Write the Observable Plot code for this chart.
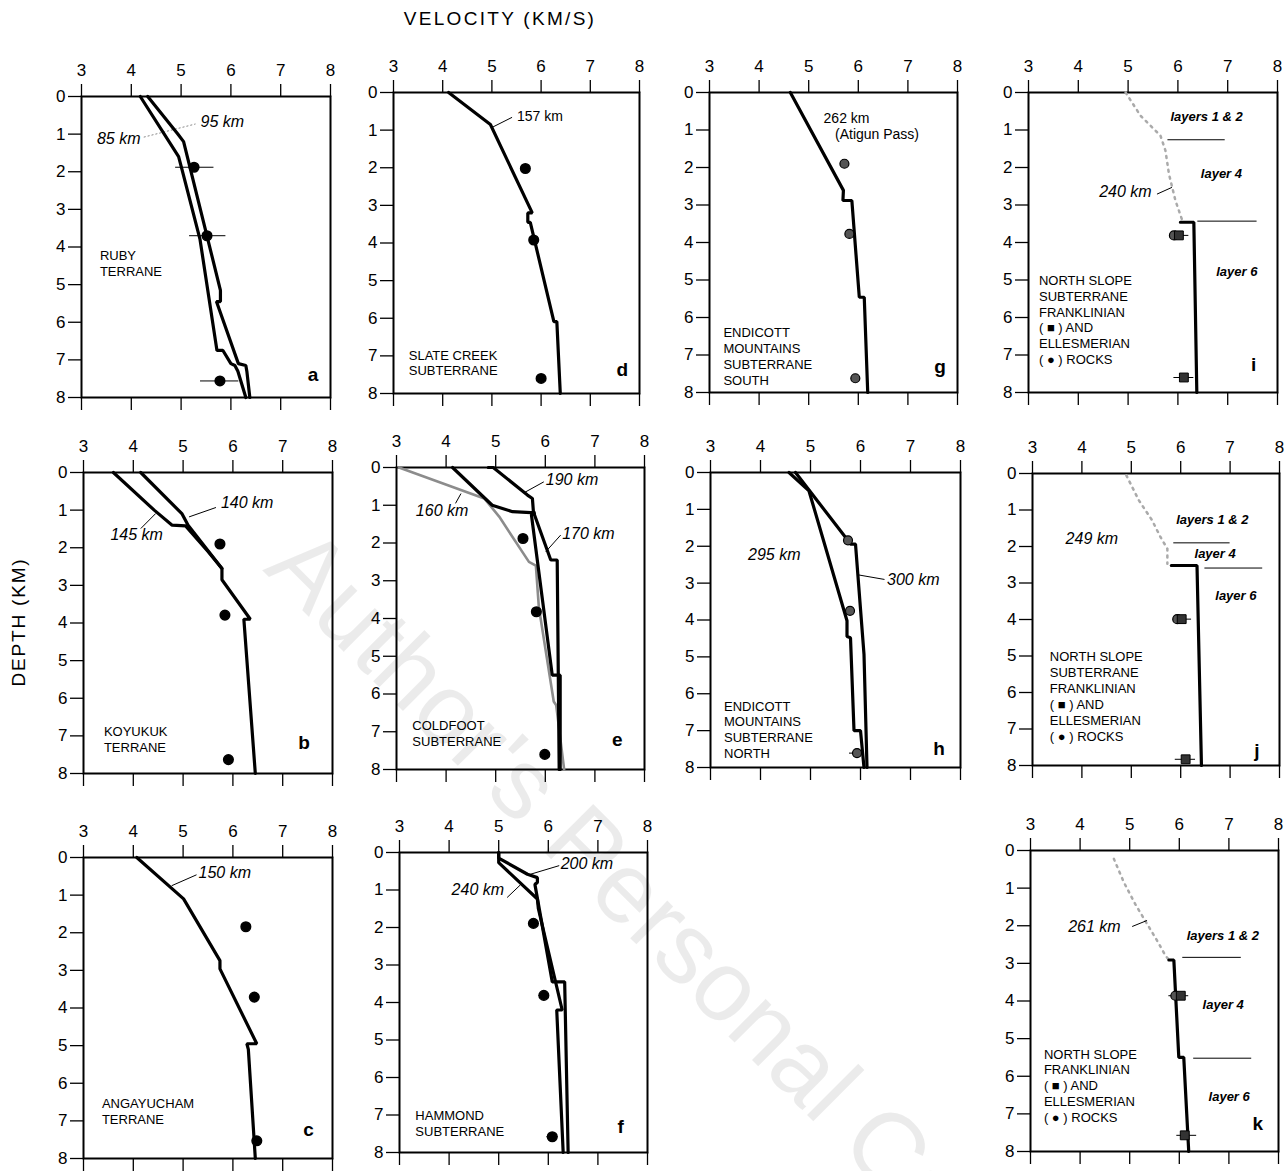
<!DOCTYPE html>
<html>
<head>
<meta charset="utf-8">
<script src="https://cdn.jsdelivr.net/npm/d3@7"></script>
<script src="https://cdn.jsdelivr.net/npm/@observablehq/plot@0.6"></script>
<style>
  html, body { margin:0; padding:0; background:#fff; }
  #root { position:relative; width:1286px; height:1171px; overflow:hidden; background:#fff;
          font-family:'Liberation Sans', Arial, Helvetica, sans-serif; }
  .panel { position:absolute; }
  #title { position:absolute; top:8px; left:380px; width:240px; text-align:center; font-size:19px; letter-spacing:2.3px; white-space:nowrap; }
  #ylab { position:absolute; left:19px; top:622px; transform:translate(-50%,-50%) rotate(-90deg); font-size:19px; letter-spacing:1.8px; white-space:nowrap; }
  #wm { position:absolute; left:0; top:0; pointer-events:none; }
</style>
</head>
<body>
<div id="root">
  <div id="title">VELOCITY (KM/S)</div>
  <div id="ylab">DEPTH (KM)</div>
</div>
<script>
// ---------------- DATA ----------------
const velocityTicks = [3, 4, 5, 6, 7, 8];
const depthTicks = [0, 1, 2, 3, 4, 5, 6, 7, 8];

// Panel a — Ruby terrane
const a_85km = [[4.18,0],[4.95,1.6],[5.02,1.95],[5.38,3.8],[5.72,6.75],[5.84,6.75],[6.0,7.1],[6.08,7.15],[6.14,7.3],[6.3,8]];
const a_95km = [[4.33,0],[4.93,0.99],[5.05,1.2],[5.79,5.15],[5.79,5.45],[5.71,5.45],[6.15,7.1],[6.3,7.15],[6.32,7.3],[6.38,8]];
const a_samples = [[5.26,1.88],[5.52,3.7],[5.78,7.56]];
const a_ranges = [[4.89,5.66,1.88],[5.17,5.9,3.7],[5.39,6.16,7.56]];

// Panel b — Koyukuk terrane
const b_140km = [[4.15,0],[4.98,1.1],[5.1,1.4],[5.78,2.55],[5.78,2.85],[6.35,3.9],[6.22,3.9],[6.45,8]];
const b_145km = [[3.6,0],[4.42,1.0],[4.78,1.4],[5.05,1.42],[5.5,2.1],[5.78,2.55]];
const b_samples = [[5.74,1.9],[5.84,3.79],[5.91,7.63]];

// Panel c — Angayucham terrane
const c_150km = [[4.07,0],[5.01,1.1],[5.74,2.74],[5.74,2.96],[6.48,4.95],[6.28,4.95],[6.31,5.1],[6.45,8]];
const c_samples = [[6.26,1.84],[6.43,3.71],[6.48,7.53]];

// Panel d — Slate Creek subterrane
const d_157km = [[4.12,0],[4.97,0.85],[5.82,3.2],[5.73,3.2],[5.73,3.45],[5.78,3.45],[6.26,6.09],[6.32,6.09],[6.39,8]];
const d_samples = [[5.68,2.02],[5.85,3.92],[6.0,7.6]];

// Panel e — Coldfoot subterrane
const e_190km = [[4.85,0],[4.95,0],[5.64,0.73],[5.74,0.82],[5.76,1.17],[6.11,2.45],[6.24,2.45],[6.28,8]];
const e_170km = [[4.13,0],[4.93,1.0],[5.34,1.17],[5.8,1.2],[5.72,1.25],[6.14,5.5],[6.3,5.5],[6.3,8]];
const e_160km = [[3.05,0],[4.77,0.82],[5.07,1.3],[5.67,2.5],[5.81,2.6],[5.87,3.7],[6.17,6.2],[6.22,6.3],[6.38,8]];
const e_samples = [[5.55,1.88],[5.82,3.82],[5.99,7.6]];

// Panel f — Hammond subterrane
const f_200km = [[5.0,0],[5.0,0.15],[5.58,0.58],[5.78,0.67],[5.78,0.8],[5.73,0.85],[6.08,3.45],[6.33,3.45],[6.4,8]];
const f_240km = [[5.0,0],[5.0,0.27],[5.78,1.24],[5.8,1.5],[6.28,4.2],[6.17,4.2],[6.3,8]];
const f_samples = [[5.7,1.89],[5.91,3.81],[6.08,7.58]];
const f_ranges = [[5.6,5.82,1.89],[5.81,6.0,3.81],[5.97,6.2,7.58]];

// Panel g — Endicott Mountains subterrane south
const g_262km = [[4.63,0],[5.7,2.61],[5.69,2.88],[5.87,2.88],[6.02,5.46],[6.12,5.46],[6.19,8]];
const g_samples = [[5.72,1.9],[5.82,3.77],[5.94,7.62]];

// Panel h — Endicott Mountains subterrane north
const h_300km = [[4.7,0],[5.73,1.81],[5.8,1.94],[5.9,1.94],[6.07,4.93],[6.13,8]];
const h_295km = [[4.57,0],[4.97,0.5],[5.73,4.02],[5.73,4.45],[5.8,4.48],[5.87,7.0],[6.0,7.0],[6.07,8]];
const h_samples = [[5.75,1.84],[5.79,3.75],[5.93,7.61]];
const h_ranges = [[5.78,5.93,7.61]];

// Panel i — North Slope subterrane (240 km)
const i_upper = [[4.95,0],[5.25,0.62],[5.65,1.15],[5.75,1.55],[5.82,2.17],[5.95,2.88],[6.08,3.38]];
const i_240km = [[6.05,3.46],[6.32,3.46],[6.38,8]];
const i_franklinian = [[6.02,3.81],[6.12,7.6]];
const i_ellesmerian = [[5.92,3.81]];
const i_ranges = [[5.85,6.22,3.81],[5.92,6.32,7.6]];
const i_boundaries = [[5.8,6.95,1.26],[6.4,7.59,3.43]];

// Panel j — North Slope subterrane (249 km)
const j_upper = [[4.9,0.05],[5.15,0.73],[5.42,1.28],[5.59,1.74],[5.73,2.06],[5.73,2.47]];
const j_249km = [[5.81,2.52],[6.33,2.52],[6.42,8]];
const j_franklinian = [[6.02,3.99],[6.1,7.83]];
const j_ellesmerian = [[5.93,3.99]];
const j_ranges = [[5.86,6.22,3.99],[5.89,6.3,7.83]];
const j_boundaries = [[5.86,7.0,1.9],[6.49,7.66,2.59]];

// Panel k — North Slope (261 km)
const k_upper = [[4.68,0.22],[4.88,0.84],[5.11,1.42],[5.35,1.95],[5.55,2.39],[5.72,2.79],[5.79,2.91]];
const k_261km = [[5.79,2.91],[5.89,2.91],[5.99,5.5],[6.09,5.5],[6.15,7.0],[6.19,8]];
const k_franklinian = [[6.03,3.86],[6.11,7.57]];
const k_ellesmerian = [[5.92,3.86]];
const k_ranges = [[5.79,6.19,3.86],[5.95,6.35,7.57]];
const k_boundaries = [[6.07,7.25,2.84],[6.29,7.46,5.52]];

// Annotation texts: [text, velocity, depth]
const a_names = [["RUBY\nTERRANE",3.37,4.05]];
const b_names = [["KOYUKUK\nTERRANE",3.41,6.71]];
const c_names = [["ANGAYUCHAM\nTERRANE",3.37,6.37]];
const d_names = [["SLATE CREEK\nSUBTERRANE",3.31,6.8]];
const e_names = [["COLDFOOT\nSUBTERRANE",3.32,6.65]];
const f_names = [["HAMMOND\nSUBTERRANE",3.32,6.83]];
const g_names = [["ENDICOTT\nMOUNTAINS\nSUBTERRANE\nSOUTH",3.28,6.22]];
const h_names = [["ENDICOTT\nMOUNTAINS\nSUBTERRANE\nNORTH",3.27,6.15]];
const i_names = [["NORTH SLOPE\nSUBTERRANE\nFRANKLINIAN\n( ■ ) AND\nELLESMERIAN\n( ● ) ROCKS",3.21,4.83]];
const j_names = [["NORTH SLOPE\nSUBTERRANE\nFRANKLINIAN\n( ■ ) AND\nELLESMERIAN\n( ● ) ROCKS",3.35,4.84]];
const k_names = [["NORTH SLOPE\nFRANKLINIAN\n( ■ ) AND\nELLESMERIAN\n( ● ) ROCKS",3.27,5.23]];

const panelLetters = {a:[7.65,7.4], b:[7.43,7.2], c:[7.52,7.25], d:[7.65,7.38], e:[7.45,7.22], f:[7.46,7.32],
                      g:[7.65,7.33], h:[7.57,7.5], i:[7.52,7.27], j:[7.54,7.59], k:[7.58,7.27]};

const a_kmLabels = [["95 km",5.39,0.68],["85 km",3.31,1.13]];
const b_kmLabels = [["140 km",5.76,0.82],["145 km",3.54,1.67]];
const c_kmLabels = [["150 km",5.31,0.4]];
const e_kmLabels = [["190 km",6.01,0.32],["160 km",3.39,1.15],["170 km",6.34,1.75]];
const f_kmLabels = [["200 km",6.25,0.31],["240 km",4.05,1.0]];
const h_kmLabels = [["300 km",6.53,2.92],["295 km",3.75,2.24]];
const i_kmLabels = [["240 km",4.42,2.66]];
const j_kmLabels = [["249 km",3.67,1.78]];
const k_kmLabels = [["261 km",3.76,2.02]];
const d_plainLabels = [["157 km",5.51,0.63]];
const g_plainLabels = [["262 km",5.3,0.69],["(Atigun Pass)",5.53,1.12]];

const i_layerLabels = [["layers 1 & 2",5.85,0.65],["layer 4",6.46,2.17],["layer 6",6.77,4.79]];
const j_layerLabels = [["layers 1 & 2",5.91,1.28],["layer 4",6.28,2.21],["layer 6",6.7,3.36]];
const k_layerLabels = [["layers 1 & 2",6.15,2.26],["layer 4",6.47,4.1],["layer 6",6.59,6.56]];

// Leader lines: [v1, d1, v2, d2]
const a_leaders = [[4.25,1.08,5.29,0.73]];
const b_leaders = [[5.12,1.18,5.66,0.93],[4.15,1.49,4.45,1.09]];
const c_leaders = [[4.77,0.75,5.27,0.46]];
const d_leaders = [[5.0,0.93,5.41,0.66]];
const e_leaders = [[5.57,0.67,5.97,0.38],[4.19,0.95,4.3,0.69],[6.01,2.23,6.31,1.79]];
const f_leaders = [[5.17,1.2,5.44,0.86],[5.64,0.58,6.22,0.35]];
const h_leaders = [[5.97,2.78,6.48,2.9]];
const i_leaders = [[5.58,2.71,5.88,2.53]];
const k_leaders = [[5.05,2.02,5.35,1.86]];

// ---------------- PANEL SPECS ----------------
const specs = [
 {id:"a", L:81,  T:96,  W:249, H:301, black:[a_85km,a_95km], dots:a_samples, ranges:a_ranges, names:a_names, km:a_kmLabels, leaders:a_leaders, leaderGray:true},
 {id:"d", L:393, T:92,  W:246, H:301, black:[d_157km], dots:d_samples, names:d_names, plain:d_plainLabels, leaders:d_leaders},
 {id:"g", L:709, T:92,  W:248, H:300, black:[g_262km], grayDots:g_samples, names:g_names, plain:g_plainLabels},
 {id:"i", L:1028,T:92,  W:249, H:300, dotted:[i_upper], black:[i_240km], squares:i_franklinian, grayDots:i_ellesmerian, ranges:i_ranges, bounds:i_boundaries, names:i_names, km:i_kmLabels, layers:i_layerLabels, leaders:i_leaders},
 {id:"b", L:83,  T:472, W:249, H:301, black:[b_140km,b_145km], dots:b_samples, names:b_names, km:b_kmLabels, leaders:b_leaders},
 {id:"e", L:396, T:467, W:248, H:302, gray:[e_160km], black:[e_190km,e_170km], dots:e_samples, names:e_names, km:e_kmLabels, leaders:e_leaders},
 {id:"h", L:710, T:472, W:250, H:295, black:[h_300km,h_295km], grayDots:h_samples, ranges:h_ranges, names:h_names, km:h_kmLabels, leaders:h_leaders},
 {id:"j", L:1032,T:473, W:247, H:292, dotted:[j_upper], black:[j_249km], squares:j_franklinian, grayDots:j_ellesmerian, ranges:j_ranges, bounds:j_boundaries, names:j_names, km:j_kmLabels, layers:j_layerLabels},
 {id:"c", L:83,  T:857, W:249, H:301, black:[c_150km], dots:c_samples, names:c_names, km:c_kmLabels, leaders:c_leaders},
 {id:"f", L:399, T:852, W:248, H:300, black:[f_200km,f_240km], dots:f_samples, ranges:f_ranges, names:f_names, km:f_kmLabels, leaders:f_leaders},
 {id:"k", L:1030,T:850, W:248, H:301, dotted:[k_upper], black:[k_261km], squares:k_franklinian, grayDots:k_ellesmerian, ranges:k_ranges, bounds:k_boundaries, names:k_names, km:k_kmLabels, layers:k_layerLabels, leaders:k_leaders}
];

const FONT = "'Liberation Sans', Arial, Helvetica, sans-serif";
const X = d => d[0], Y = d => d[1];
const intFmt = d => String(d);

function makePanel(s) {
  const ml = 46, mt = 46, mr = 6, mb = 18;
  const marks = [
    Plot.axisX({anchor:"top", ticks:velocityTicks, tickFormat:intFmt, tickSize:13, tickPadding:8, fontSize:17, label:null, strokeWidth:1.3}),
    Plot.axisX({anchor:"bottom", ticks:velocityTicks, tickSize:13, tickFormat:() => "", label:null, strokeWidth:1.3}),
    Plot.axisY({anchor:"left", ticks:depthTicks, tickFormat:intFmt, tickSize:13, tickPadding:3, fontSize:17, label:null, strokeWidth:1.3}),
    Plot.frame({stroke:"black", strokeWidth:2})
  ];
  (s.dotted || []).forEach(l => marks.push(Plot.line(l, {x:X, y:Y, stroke:"#aaa", strokeWidth:2.5, strokeDasharray:"2 5"})));
  (s.gray || []).forEach(l => marks.push(Plot.line(l, {x:X, y:Y, stroke:"#8c8c8c", strokeWidth:2.6})));
  (s.bounds || []).length && marks.push(Plot.ruleY(s.bounds, {x1:d=>d[0], x2:d=>d[1], y:d=>d[2], stroke:"black", strokeWidth:1}));
  (s.leaders || []).length && marks.push(Plot.link(s.leaders, {x1:d=>d[0], y1:d=>d[1], x2:d=>d[2], y2:d=>d[3], stroke: s.leaderGray ? "#888" : "black", strokeWidth:1, strokeDasharray: s.leaderGray ? "2 2" : null}));
  (s.black || []).forEach(l => marks.push(Plot.line(l, {x:X, y:Y, stroke:"black", strokeWidth:3.2, strokeLinejoin:"miter"})));
  (s.ranges || []).length && marks.push(Plot.ruleY(s.ranges, {x1:d=>d[0], x2:d=>d[1], y:d=>d[2], stroke:"black", strokeWidth:1}));
  s.dots && marks.push(Plot.dot(s.dots, {x:X, y:Y, r:4.8, fill:"black", stroke:"black"}));
  s.grayDots && marks.push(Plot.dot(s.grayDots, {x:X, y:Y, r:4.5, fill:"#555", stroke:"black", strokeWidth:1.2}));
  s.squares && marks.push(Plot.dot(s.squares, {x:X, y:Y, r:5, symbol:"square", fill:"#333", stroke:"black", strokeWidth:1}));
  const T = d => d[0], TX = d => d[1], TY = d => d[2];
  s.names && marks.push(Plot.text(s.names, {x:TX, y:TY, text:T, textAnchor:"start", lineAnchor:"top", fontSize:13, lineHeight:1.22, fill:"black", fontFamily:FONT}));
  s.km && marks.push(Plot.text(s.km, {x:TX, y:TY, text:T, textAnchor:"start", lineAnchor:"middle", fontSize:16, fontStyle:"italic", fill:"black", fontFamily:FONT}));
  s.plain && marks.push(Plot.text(s.plain, {x:TX, y:TY, text:T, textAnchor:"start", lineAnchor:"middle", fontSize:14, fill:"black", fontFamily:FONT}));
  s.layers && marks.push(Plot.text(s.layers, {x:TX, y:TY, text:T, textAnchor:"start", lineAnchor:"middle", fontSize:13, fontStyle:"italic", fontWeight:"bold", fill:"black", fontFamily:FONT}));
  const letter = panelLetters[s.id];
  marks.push(Plot.text([[s.id, letter[0], letter[1]]], {x:TX, y:TY, text:T, textAnchor:"middle", lineAnchor:"middle", fontSize:19, fontWeight:"bold", fill:"black", fontFamily:FONT}));

  const chart = Plot.plot({
    width: s.W + ml + mr, height: s.H + mt + mb,
    marginLeft: ml, marginTop: mt, marginRight: mr, marginBottom: mb,
    x: {domain:[3, 8]},
    y: {domain:[0, 8], reverse:true},
    style: {background:"transparent", color:"black", fontFamily:FONT, overflow:"visible"},
    marks
  });
  const div = document.createElement("div");
  div.className = "panel";
  div.style.left = (s.L - ml) + "px";
  div.style.top = (s.T - mt) + "px";
  div.appendChild(chart);
  document.getElementById("root").appendChild(div);
}

specs.forEach(makePanel);

// Watermark overlay
const ns = "http://www.w3.org/2000/svg";
const wm = document.createElementNS(ns, "svg");
wm.setAttribute("id", "wm");
wm.setAttribute("width", 1286);
wm.setAttribute("height", 1171);
const wt = document.createElementNS(ns, "text");
wt.setAttribute("transform", "translate(262,570) rotate(45)");
wt.setAttribute("font-size", "100");
wt.setAttribute("font-family", FONT);
wt.setAttribute("fill", "rgba(0,0,0,0.08)");
wt.textContent = "Author's Personal Copy";
wm.appendChild(wt);
document.getElementById("root").appendChild(wm);
</script>
</body>
</html>
